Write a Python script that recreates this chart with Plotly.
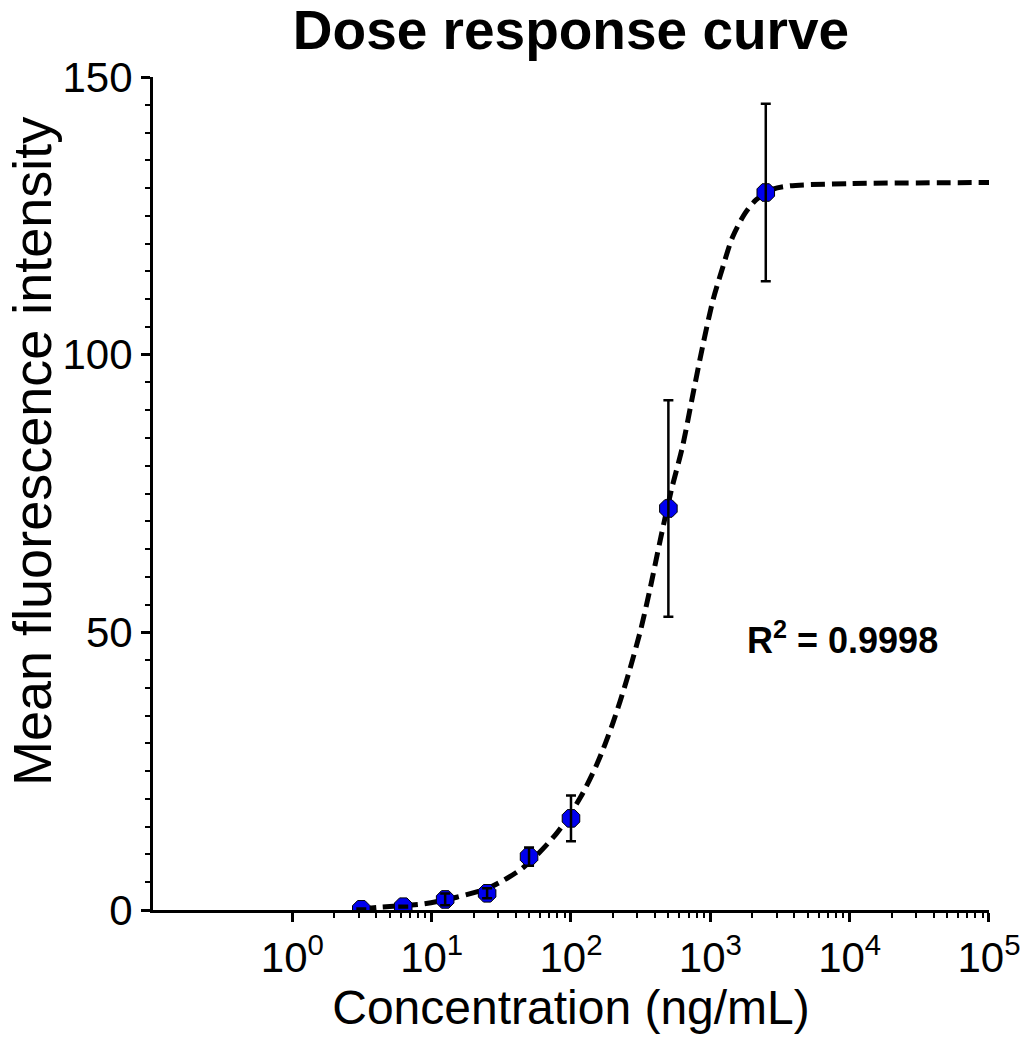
import plotly.graph_objects as go

# ---- data ----
conc = [3.125, 6.25, 12.5, 25, 50, 100, 500, 2500]
mfi = [0.12, 0.6, 1.9, 3.0, 9.6, 16.5, 72.3, 129.2]
mfi_err = [0.15, 0.15, 1.05, 0.9, 1.65, 4.1, 19.5, 16.0]

fit_conc = [3.16, 4.27, 8.71, 15.1, 26.3, 45.7, 79.4, 117, 155, 200, 251, 316, 372,
            437, 525, 631, 759, 891, 1047, 1230, 1445, 1778, 2138, 2818, 3715, 10000, 100000]
fit_mfi = [0.2, 0.5, 1.1, 2.3, 4.1, 7.7, 13.9, 20.3, 26.5, 33.7, 41.4, 50.4, 58.2,
           66.6, 75.6, 83.4, 93.5, 102.1, 109.9, 115.8, 121.2, 125.5, 127.9, 129.8, 130.4, 130.8, 131.0]

x_major = [1, 10, 100, 1000, 10000, 100000]
x_major_text = ["10<sup>0</sup>", "10<sup>1</sup>", "10<sup>2</sup>", "10<sup>3</sup>",
                "10<sup>4</sup>", "10<sup>5</sup>"]
x_minor = [m * d for d in [1, 10, 100, 1000, 10000] for m in range(2, 10)]
y_major = [0, 50, 100, 150]

title_text = "Dose response curve"
x_title = "Concentration (ng/mL)"
y_title = "Mean fluorescence intensity"
r2_text = "R<sup>2</sup> = 0.9998"

FONT = "Liberation Sans, Arial, sans-serif"

# plot-area geometry (pixels)
L, R, T, B = 153, 32, 77, 140
W, H = 1021, 1050
PW, PH = W - L - R, H - T - B

fig = go.Figure()

# fitted curve
fig.add_trace(go.Scatter(
    x=fit_conc, y=fit_mfi, mode="lines",
    line=dict(color="black", width=5, dash="14px,7px", shape="spline", smoothing=0.8),
    hoverinfo="skip", showlegend=False))

# data points
fig.add_trace(go.Scatter(
    x=conc, y=mfi, mode="markers",
    marker=dict(symbol="octagon", size=19, color="#0000EE",
                line=dict(color="black", width=1)),
    showlegend=False))

# error bars drawn over the markers
fig.add_trace(go.Scatter(
    x=conc, y=mfi, mode="markers",
    marker=dict(size=1, opacity=0),
    error_y=dict(type="data", array=mfi_err, visible=True,
                 color="black", thickness=2.5, width=5),
    hoverinfo="skip", showlegend=False))

fig.add_annotation(
    text=r2_text, xref="paper", yref="paper",
    x=(842 - L) / PW, y=(910 - 638) / PH,
    xanchor="center", yanchor="middle", showarrow=False,
    font=dict(family=FONT, size=36, color="black", weight="bold"))

fig.add_annotation(
    text=y_title, xref="paper", yref="paper",
    x=(32 - L) / PW, y=(910 - 452) / PH,
    xanchor="center", yanchor="middle", textangle=-90, showarrow=False,
    font=dict(family=FONT, size=54, color="black"))

fig.update_layout(
    width=W, height=H, autosize=False,
    margin=dict(l=L, r=R, t=T, b=B, autoexpand=False),
    paper_bgcolor="white", plot_bgcolor="white",
    title=dict(text=title_text, x=(L + W - R) / 2 / W, xanchor="center",
               y=1 - 30 / H, yanchor="middle", yref="container",
               font=dict(family=FONT, size=55, color="black", weight="bold")),
    font=dict(family=FONT, color="black"),
)

fig.update_xaxes(
    type="log", range=[-1, 5.0001], automargin=False,
    showgrid=False, zeroline=False,
    showline=True, linecolor="black", linewidth=3,
    ticks="outside", ticklen=9, tickwidth=3, tickcolor="black",
    tickvals=x_major, ticktext=x_major_text, ticklabeloverflow="allow",
    tickfont=dict(family=FONT, size=42, color="black"),
    minor=dict(tickvals=x_minor, ticks="outside", ticklen=5, tickwidth=2,
               tickcolor="black", showgrid=False),
    title=dict(text=x_title, font=dict(family=FONT, size=48, color="black"), standoff=10),
)

fig.update_yaxes(
    range=[0, 150], automargin=False,
    showgrid=False, zeroline=False,
    showline=True, linecolor="black", linewidth=3,
    ticks="outside", ticklen=9, tickwidth=3, tickcolor="black",
    tickvals=y_major,
    tickfont=dict(family=FONT, size=42, color="black"),
    minor=dict(dtick=5, ticks="outside", ticklen=5, tickwidth=2,
               tickcolor="black", showgrid=False),
)

fig.write_html("out.html", config={"displayModeBar": False},
               post_script="document.body.style.margin='0';")
